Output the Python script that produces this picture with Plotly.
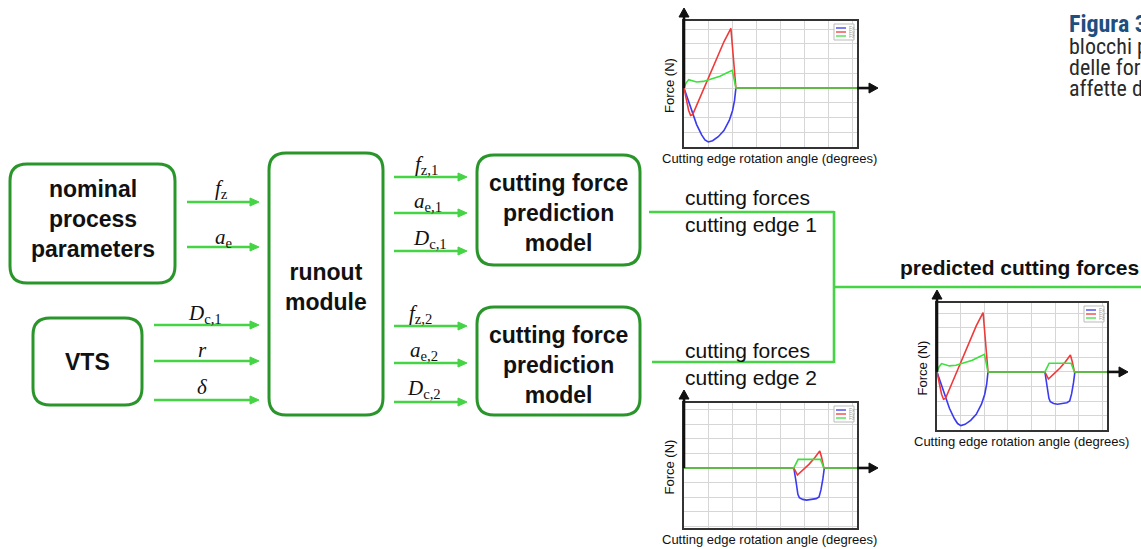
import plotly.graph_objects as go

# ---------------- data (angle in degrees, force in N) ----------------
# cutting edge 1
e1_fx_angle = [0, 4.2, 9.0, 15.9, 26.3, 36.7, 43.6, 50.5, 59.5, 71.3, 83.1, 94.2, 101.1, 105.2, 108, 360]
e1_fx_force = [0, -39, -84, -152, -248, -318, -352, -366, -357, -330, -289, -220, -152, -84, 0, 0]
e1_fy_angle = [0, 4.2, 9.7, 13.8, 18.0, 26.3, 40.2, 54.0, 67.8, 83.1, 97.6, 102.5, 108, 360]
e1_fy_force = [0, -61, -152, -186, -180, -118, -11, 93, 200, 314, 405, 200, 0, 0]
e1_fz_angle = [0, 4.2, 9.7, 15.9, 26.3, 40.2, 57.5, 74.8, 88.6, 97.6, 100.4, 108, 360]
e1_fz_force = [0, 34, 57, 52, 41, 45, 61, 80, 102, 120, 120, 0, 0]
# cutting edge 2
e2_fx_angle = [0, 228.5, 233, 237, 240, 247, 255, 265, 275, 281, 285, 289, 292, 360]
e2_fx_force = [0, 0, -90, -180, -203, -215, -220, -217, -210, -198, -150, -75, 0, 0]
e2_fy_angle = [0, 228.5, 236, 248, 260, 272, 282.5, 286.5, 291, 360]
e2_fy_force = [0, 0, -48, -12, 25, 70, 116, 70, 0, 0]
e2_fz_angle = [0, 228.5, 237.5, 284, 291, 360]
e2_fz_force = [0, 0, 59, 59, 0, 0]

series_names = ["Fx", "Fy", "Fz"]
series_colors = ["#3a3af0", "#f03a3a", "#3ee03e"]

caption_title = "Figura 3"
caption_lines = ["blocchi p", "delle forz", "affette d"]

# ---------------- layout geometry (pixels) ----------------
W, H = 1141, 549
GREEN_BOX = "#2a952a"
GREEN_LINE = "#44d444"
FONT = "Liberation Sans, Arial, sans-serif"
SERIF = "Liberation Serif, Times New Roman, serif"
CAP = "Roboto Condensed, Liberation Sans Narrow, Roboto, sans-serif"

charts = {
    "edge1": dict(box=(684, 21, 857, 147), yr=[-400, 455]),
    "edge2": dict(box=(684, 403, 857, 528), yr=[-411, 445]),
    "pred": dict(box=(937, 303, 1107, 430), yr=[-396, 470]),
}

fig = go.Figure()
fig.update_layout(
    width=W, height=H, margin=dict(l=0, r=0, t=0, b=0),
    paper_bgcolor="white", plot_bgcolor="white", showlegend=False,
    xaxis=dict(range=[0, W], domain=[0, 1], visible=False, fixedrange=True),
    yaxis=dict(range=[H, 0], domain=[0, 1], visible=False, fixedrange=True),
)
fig.add_trace(go.Scatter(x=[0], y=[0], mode="markers", marker=dict(opacity=0), hoverinfo="skip"))

shapes = []
annotations = []


def rrect(x0, y0, x1, y1, r):
    return (f"M{x0+r},{y0} L{x1-r},{y0} Q{x1},{y0} {x1},{y0+r} L{x1},{y1-r} "
            f"Q{x1},{y1} {x1-r},{y1} L{x0+r},{y1} Q{x0},{y1} {x0},{y1-r} "
            f"L{x0},{y0+r} Q{x0},{y0} {x0+r},{y0} Z")


def seg(x0, y0, x1, y1, color, width):
    shapes.append(dict(type="line", x0=x0, y0=y0, x1=x1, y1=y1, xref="x", yref="y",
                       line=dict(color=color, width=width), layer="above"))


def head(x, y, direction, color, size=8, half=4):
    if direction == "right":
        p = f"M{x},{y} L{x-size},{y-half} L{x-size},{y+half} Z"
    else:  # up
        p = f"M{x},{y} L{x-half},{y+size} L{x+half},{y+size} Z"
    shapes.append(dict(type="path", path=p, xref="x", yref="y", fillcolor=color,
                       line=dict(color=color, width=1), layer="above"))


def box(x0, y0, x1, y1, text, cy, r=17):
    shapes.append(dict(type="path", path=rrect(x0, y0, x1, y1, r), xref="x", yref="y",
                       line=dict(color=GREEN_BOX, width=3), fillcolor="rgba(0,0,0,0)", layer="above"))
    annotations.append(dict(x=(x0 + x1) / 2, y=cy, xref="x", yref="y", text=text, showarrow=False,
                            font=dict(family=FONT, size=23, color="#111"), align="center"))


def arrow(x0, x1, y, label, lx, ly):
    seg(x0, y, x1 - 5, y, GREEN_LINE, 2.4)
    head(x1, y, "right", GREEN_LINE, size=9, half=4)
    annotations.append(dict(x=lx, y=ly, xref="x", yref="y", text=label, showarrow=False,
                            font=dict(family=SERIF, size=21, color="#111")))


# boxes
box(10, 164, 175, 283, "<b>nominal<br>process<br>parameters</b>", 219)
box(33, 318, 142, 405, "<b>VTS</b>", 362)
box(269, 153, 383, 415, "<b>runout<br>module</b>", 287)
box(477, 155, 640, 265, "<b>cutting force<br>prediction<br>model</b>", 213)
box(477, 307, 640, 415, "<b>cutting force<br>prediction<br>model</b>", 365)

# input arrows
arrow(187, 259, 202, "<i>f</i><sub>z</sub>", 221, 189)
arrow(187, 259, 247, "<i>a</i><sub>e</sub>", 224, 238)
arrow(154, 259, 325, "<i>D</i><sub>c,1</sub>", 205, 314)
arrow(154, 259, 361, "<i>r</i>", 202, 350)
arrow(154, 259, 400, "<i>δ</i>", 202, 387)
# outputs of runout module
arrow(394, 467, 177, "<i>f</i><sub>z,1</sub>", 426, 165)
arrow(394, 467, 213, "<i>a</i><sub>e,1</sub>", 428, 202)
arrow(394, 467, 251, "<i>D</i><sub>c,1</sub>", 430, 239)
arrow(394, 467, 326, "<i>f</i><sub>z,2</sub>", 420, 314)
arrow(394, 467, 363, "<i>a</i><sub>e,2</sub>", 424, 351)
arrow(394, 467, 402, "<i>D</i><sub>c,2</sub>", 424, 389)

# connection lines
seg(649, 212, 834, 212, GREEN_LINE, 2.6)
seg(652, 362, 834, 362, GREEN_LINE, 2.6)
seg(834, 211, 834, 363, GREEN_LINE, 2.6)
seg(834, 287, W + 5, 287, GREEN_LINE, 2.6)

annotations.append(dict(x=683, y=211, xref="x", yref="y", xanchor="left", showarrow=False,
                        text="cutting forces<br>cutting edge 1", align="left",
                        font=dict(family=FONT, size=21, color="#111")))
annotations.append(dict(x=683, y=364, xref="x", yref="y", xanchor="left", showarrow=False,
                        text="cutting forces<br>cutting edge 2", align="left",
                        font=dict(family=FONT, size=21, color="#111")))
annotations.append(dict(x=898, y=267, xref="x", yref="y", xanchor="left", showarrow=False,
                        text="<b>predicted cutting forces</b>",
                        font=dict(family=FONT, size=21, color="#111")))

# caption (partly outside the page, as in the reference)
annotations.append(dict(x=1067, y=24, xref="x", yref="y", xanchor="left", showarrow=False,
                        text=f"<b>{caption_title}</b>", font=dict(family=CAP, size=24, color="#1d4f80")))
for i, line in enumerate(caption_lines):
    annotations.append(dict(x=1067, y=46 + 21 * i, xref="x", yref="y", xanchor="left", showarrow=False,
                            text=line, font=dict(family=CAP, size=22, color="#2a2a2a")))


# ---------------- mini charts ----------------
def combine(ax1, fy1, ax2, fy2, split=180):
    xs = [a for a in ax1 if a <= split] + [a for a in ax2 if a > split]
    ys = [f for a, f in zip(ax1, fy1) if a <= split] + [f for a, f in zip(ax2, fy2) if a > split]
    return xs, ys


chart_series = {
    "edge1": [(e1_fx_angle, e1_fx_force), (e1_fy_angle, e1_fy_force), (e1_fz_angle, e1_fz_force)],
    "edge2": [(e2_fx_angle, e2_fx_force), (e2_fy_angle, e2_fy_force), (e2_fz_angle, e2_fz_force)],
    "pred": [combine(e1_fx_angle, e1_fx_force, e2_fx_angle, e2_fx_force),
             combine(e1_fy_angle, e1_fy_force, e2_fy_angle, e2_fy_force),
             combine(e1_fz_angle, e1_fz_force, e2_fz_angle, e2_fz_force)],
}

for k, (key, c) in enumerate(charts.items(), start=2):
    L, T, R, B = c["box"]
    lo, hi = c["yr"]
    fig.update_layout(**{
        f"xaxis{k}": dict(domain=[L / W, R / W], anchor=f"y{k}", range=[0, 360], dtick=50, tick0=0,
                          showgrid=True, gridcolor="#d6d6d6", gridwidth=1, showline=True, mirror=True,
                          linecolor="#333", linewidth=1.6, showticklabels=False, ticks="",
                          zeroline=False, fixedrange=True),
        f"yaxis{k}": dict(domain=[1 - B / H, 1 - T / H], anchor=f"x{k}", range=[lo, hi], dtick=100, tick0=0,
                          showgrid=True, gridcolor="#d6d6d6", gridwidth=1, showline=True, mirror=True,
                          linecolor="#333", linewidth=1.6, showticklabels=False, ticks="",
                          zeroline=False, fixedrange=True),
    })
    for (xs, ys), col, nm in zip(chart_series[key], series_colors, series_names):
        fig.add_trace(go.Scatter(x=xs, y=ys, mode="lines", name=nm, xaxis=f"x{k}", yaxis=f"y{k}",
                                 line=dict(color=col, width=1.6), hoverinfo="skip"))
    zy = T + (hi - 0) / (hi - lo) * (B - T)
    # axis arrows
    seg(L, zy, L, T - 6, "#111", 2.6)
    head(L, T - 13, "up", "#111", size=9, half=5)
    seg(R, zy, R + 15, zy, "#111", 2.6)
    head(R + 21, zy, "right", "#111", size=9, half=5)
    # axis labels
    annotations.append(dict(x=L - 15, y=(T + B) / 2 + 2, xref="x", yref="y", text="Force (N)",
                            textangle=-90, showarrow=False, font=dict(family=FONT, size=13, color="#111")))
    annotations.append(dict(x=(L + R) / 2 - 1, y=B + 11, xref="x", yref="y",
                            text="Cutting edge rotation angle (degrees)", showarrow=False,
                            font=dict(family=FONT, size=13, color="#111")))
    # small legend
    lx0, ly0 = R - 23, T + 3
    shapes.append(dict(type="rect", x0=lx0, y0=ly0, x1=lx0 + 20, y1=ly0 + 16, xref="x", yref="y",
                       line=dict(color="#bbb", width=1), fillcolor="white", layer="above"))
    for j, (col, nm) in enumerate(zip(series_colors, series_names)):
        yy = ly0 + 4 + 4 * j
        shapes.append(dict(type="line", x0=lx0 + 2, y0=yy, x1=lx0 + 12, y1=yy, xref="x", yref="y",
                           line=dict(color=col, width=1.3), layer="above"))
        annotations.append(dict(x=lx0 + 13, y=yy, xref="x", yref="y", xanchor="left", text=nm,
                                showarrow=False, font=dict(family=FONT, size=5, color="#999")))

fig.update_layout(shapes=shapes, annotations=annotations)
fig.write_html("out.html", config={"displayModeBar": False, "staticPlot": True},
               post_script="document.body.style.margin='0px';document.body.style.overflow='hidden';")
